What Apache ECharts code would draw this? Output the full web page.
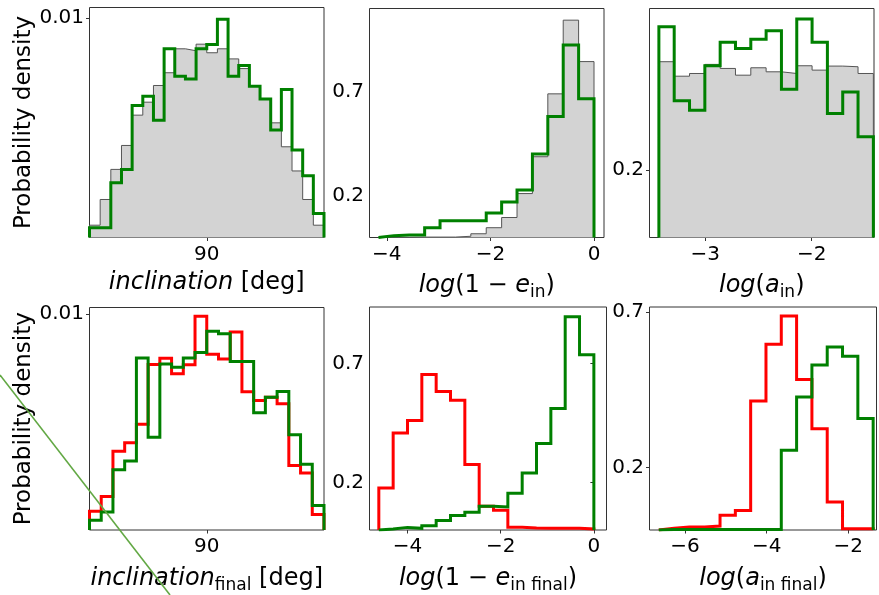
<!DOCTYPE html>
<html>
<head>
<meta charset="utf-8">
<script src="https://cdn.jsdelivr.net/npm/echarts@6/dist/echarts.min.js"></script>
<style>
  html, body { margin: 0; padding: 0; background: #ffffff; }
  #chart { width: 879px; height: 595px; }
</style>
</head>
<body>
<div id="chart"></div>
<script>
// ---- histogram bins: [low edge, high edge, number of bins] ----
const incInitBins   = [0, 180, 22];
const eInInitBins   = [-4.161, 0, 14];
const aInInitBins   = [-3.434, -1.422, 14];
const incFinalBins  = [0, 180, 20];
const eInFinalBins  = [-4.614, 0, 15];
const aInFinalBins  = [-6.645, -1.388, 14];

// ---- probability densities, initial configuration ----
// all systems (grey, filled) and selected systems (green)
const incInitAll = [0.00056, 0.00173, 0.00310, 0.00419, 0.00557, 0.00616, 0.00692, 0.00750,
                    0.00859, 0.00850, 0.00880, 0.00841, 0.00859, 0.00813, 0.00769, 0.00689,
                    0.00631, 0.00522, 0.00413, 0.00303, 0.00173, 0.00056];
const incInitSel = [0.00044, 0.00044, 0.00249, 0.00310, 0.00601, 0.00643, 0.00534, 0.00859,
                    0.00734, 0.00722, 0.00859, 0.00879, 0.00994, 0.00734, 0.00783, 0.00689,
                    0.00631, 0.00489, 0.00674, 0.00398, 0.00281, 0.00109];
const eInInitAll = [0.001, 0.001, 0.002, 0.002, 0.002, 0.006, 0.018, 0.047,
                    0.096, 0.211, 0.388, 0.690, 1.044, 0.845];
const eInInitSel = [0.009, 0.012, 0.012, 0.047, 0.080, 0.080, 0.080, 0.118,
                    0.170, 0.228, 0.401, 0.581, 0.925, 0.666];
const aInInitAll = [0.522, 0.479, 0.487, 0.514, 0.502, 0.482, 0.504,
                    0.492, 0.487, 0.510, 0.497, 0.509, 0.507, 0.487];
const aInInitSel = [0.626, 0.406, 0.378, 0.510, 0.580, 0.561, 0.589,
                    0.614, 0.440, 0.649, 0.580, 0.368, 0.432, 0.299];

// ---- probability densities, final configuration (red and green groups) ----
const incFinalRed   = [0.00087, 0.00155, 0.00364, 0.00404, 0.00489, 0.00765, 0.00794, 0.00723,
                       0.00764, 0.00989, 0.00813, 0.00791, 0.00916, 0.00639, 0.00599, 0.00614,
                       0.00584, 0.00298, 0.00264, 0.00072];
const incFinalGreen = [0.00045, 0.00083, 0.00279, 0.00319, 0.00795, 0.00429, 0.00768, 0.00753,
                       0.00795, 0.00821, 0.00919, 0.00908, 0.00779, 0.00779, 0.00542, 0.00614,
                       0.00640, 0.00440, 0.00304, 0.00113];
const eInFinalRed   = [0.176, 0.408, 0.460, 0.653, 0.582, 0.545, 0.275, 0.100,
                       0.083, 0.012, 0.008, 0.007, 0.007, 0.007, 0.004];
const eInFinalGreen = [0.004, 0.011, 0.007, 0.018, 0.040, 0.061, 0.075, 0.100,
                       0.097, 0.154, 0.240, 0.363, 0.510, 0.896, 0.736];
const aInFinalRed   = [0.006, 0.010, 0.010, 0.0125, 0.047, 0.0625, 0.414,
                       0.596, 0.6875, 0.483, 0.325, 0.090, 0.004, 0.004];
const aInFinalGreen = [0.002, 0.002, 0.002, 0.002, 0.002, 0.002, 0.002,
                       0.002, 0.256, 0.427, 0.530, 0.5875, 0.558, 0.358];

// ---- axis ranges and tick values ----
const incRange = [0, 180];            const incTicks = [90];
const eInInitRange = [-4.334, 0.193]; const eInTicks = [-4, -2, 0];
const aInInitRange = [-3.522, -1.416]; const aInInitTicks = [-3, -2];
const eInFinalRange = [-4.814, 0.271];
const aInFinalRange = [-6.873, -1.306]; const aInFinalTicks = [-6, -4, -2];
const incYTicks = [0.01];
const yTicks27 = [0.2, 0.7];
const yTicks2 = [0.2];
const yMax = [0.01047, 1.100, 0.680, 0.01029, 0.937, 0.716];

const FONT = 'DejaVu Sans';
const GREY_FILL = '#d3d3d3', GREY_EDGE = '#555555';
const GREEN = '#008000', RED = '#ff0000';

function edgesOf(bins) {
  const [lo, hi, n] = bins, out = [];
  for (let i = 0; i <= n; i++) out.push(lo + (hi - lo) * i / n);
  return out;
}
// outline of a step histogram: up from the baseline, across each bin, back down
function stepOutline(bins, heights) {
  const e = edgesOf(bins);
  const pts = [[e[0], 0]];
  heights.forEach((h, i) => { pts.push([e[i], h], [e[i + 1], h]); });
  pts.push([e[e.length - 1], 0]);
  return pts;
}

const minus = v => String(v).replace('-', '\u2212');

const grids = [
  { left: 89.5, top: 7.5,  width: 234.5, height: 230 },
  { left: 369.5, top: 8.5, width: 234.5, height: 229 },
  { left: 649.5, top: 8.5, width: 224.5, height: 229 },
  { left: 89.5, top: 307.5, width: 234.5, height: 227.5 },
  { left: 369.5, top: 307, width: 237, height: 228 },
  { left: 649.5, top: 307, width: 227, height: 228 }
].map(g => Object.assign({ show: true, borderColor: '#333', borderWidth: 1, backgroundColor: 'transparent' }, g));

const nameStyle = {
  fontFamily: FONT, fontSize: 24, color: '#000',
  rich: {
    i: { fontFamily: FONT, fontSize: 24, fontStyle: 'italic', color: '#000' },
    s: { fontFamily: FONT, fontSize: 17, color: '#000', padding: [14, 0, 0, 0] }
  }
};

function xAxis(idx, range, ticks, name) {
  return {
    type: 'value', gridIndex: idx, min: range[0], max: range[1],
    axisLine: { show: false }, splitLine: { show: false },
    axisTick: { show: true, length: 3.5, lineStyle: { color: '#333' }, customValues: ticks },
    axisLabel: { show: true, margin: 7, fontFamily: FONT, fontSize: 20, color: '#000',
                 customValues: ticks, formatter: minus },
    name: name, nameLocation: 'middle', nameGap: 33, nameTextStyle: nameStyle
  };
}
function yAxis(idx, max, ticks, name) {
  return {
    type: 'value', gridIndex: idx, min: 0, max: max,
    axisLine: { show: false }, splitLine: { show: false },
    axisTick: { show: true, length: 3.5, lineStyle: { color: '#333' }, customValues: ticks },
    axisLabel: { show: true, margin: 5.5, fontFamily: FONT, fontSize: 20, color: '#000',
                 customValues: ticks, formatter: minus },
    name: name || '', nameLocation: 'middle', nameRotate: 90, nameGap: 52,
    nameTextStyle: { fontFamily: FONT, fontSize: 23, color: '#000' }
  };
}

function filledHist(idx, bins, h) {
  return {
    type: 'line', xAxisIndex: idx, yAxisIndex: idx, data: stepOutline(bins, h),
    symbol: 'none', silent: true, z: 1,
    lineStyle: { color: GREY_EDGE, width: 1 },
    areaStyle: { color: GREY_FILL, opacity: 1 }
  };
}
function stepHist(idx, bins, h, color) {
  return {
    type: 'line', xAxisIndex: idx, yAxisIndex: idx, data: stepOutline(bins, h),
    symbol: 'none', silent: true, z: 3,
    lineStyle: { color: color, width: 3, join: 'miter', cap: 'butt' }
  };
}

const option = {
  animation: false,
  backgroundColor: '#ffffff',
  grid: grids,
  xAxis: [
    xAxis(0, incRange, incTicks, '{i|inclination} [deg]'),
    xAxis(1, eInInitRange, eInTicks, '{i|log}(1 \u2212 {i|e}{s|in})'),
    xAxis(2, aInInitRange, aInInitTicks, '{i|log}({i|a}{s|in})'),
    xAxis(3, incRange, incTicks, '{i|inclination}{s|final} [deg]'),
    xAxis(4, eInFinalRange, eInTicks, '{i|log}(1 \u2212 {i|e}{s|in final})'),
    xAxis(5, aInFinalRange, aInFinalTicks, '{i|log}({i|a}{s|in final})')
  ],
  yAxis: [
    yAxis(0, yMax[0], incYTicks, 'Probability density'),
    yAxis(1, yMax[1], yTicks27),
    yAxis(2, yMax[2], yTicks2),
    yAxis(3, yMax[3], incYTicks, 'Probability density'),
    yAxis(4, yMax[4], yTicks27),
    yAxis(5, yMax[5], yTicks27)
  ],
  series: [
    filledHist(0, incInitBins, incInitAll),
    stepHist(0, incInitBins, incInitSel, GREEN),
    filledHist(1, eInInitBins, eInInitAll),
    stepHist(1, eInInitBins, eInInitSel, GREEN),
    filledHist(2, aInInitBins, aInInitAll),
    stepHist(2, aInInitBins, aInInitSel, GREEN),
    stepHist(3, incFinalBins, incFinalRed, RED),
    stepHist(3, incFinalBins, incFinalGreen, GREEN),
    stepHist(4, eInFinalBins, eInFinalRed, RED),
    stepHist(4, eInFinalBins, eInFinalGreen, GREEN),
    stepHist(5, aInFinalBins, aInFinalRed, RED),
    stepHist(5, aInFinalBins, aInFinalGreen, GREEN)
  ],
  graphic: [{
    type: 'line', z: 100, silent: true,
    shape: { x1: 0, y1: 375, x2: 170, y2: 595 },
    style: { stroke: '#62a844', lineWidth: 1.6 }
  }]
};

const chart = echarts.init(document.getElementById('chart'), null, { renderer: 'canvas' });
chart.setOption(option);
</script>
</body>
</html>
